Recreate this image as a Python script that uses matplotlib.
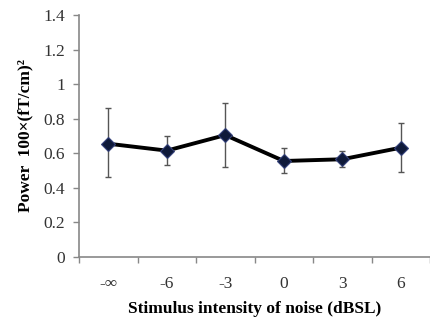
import matplotlib
matplotlib.use("Agg")
import matplotlib.pyplot as plt
import numpy as np

categories = ["-\u221e", "-6", "-3", "0", "3", "6"]
means = [0.655, 0.615, 0.705, 0.555, 0.565, 0.632]
err_hi = [0.86, 0.70, 0.89, 0.63, 0.615, 0.775]
err_lo = [0.46, 0.532, 0.522, 0.487, 0.52, 0.49]
yticks = [0, 0.2, 0.4, 0.6, 0.8, 1, 1.2, 1.4]
ytick_labels = ["0", "0.2", "0.4", "0.6", "0.8", "1", "1.2", "1.4"]

plt.rcParams['font.family'] = ['Liberation Serif', 'DejaVu Serif']

fig = plt.figure(figsize=(4.30, 3.26), dpi=100)
ax = fig.add_axes([0.184, 0.212, 0.816, 0.742])

x = np.arange(len(categories))
m = np.array(means)
yerr = np.vstack([m - np.array(err_lo), np.array(err_hi) - m])
ax.errorbar(x, m, yerr=yerr, fmt='none', ecolor='#555555', elinewidth=1.0,
            capsize=2.5, capthick=1.0, zorder=2)
ax.plot(x, m, color='black', lw=2.8, zorder=3)
ax.plot(x, m, linestyle='none', marker='D', markersize=7.5, color='#0f1a3a',
        markeredgecolor='#33407a', markeredgewidth=0.8, zorder=4)

ax.set_xlim(-0.5, len(categories) - 0.5)
ax.set_ylim(0, 1.4)
ax.set_yticks(yticks)
ax.set_yticklabels(ytick_labels)
ax.set_xticks(x)
ax.set_xticklabels(categories)
ax.set_xticks(np.arange(len(categories) + 1) - 0.5, minor=True)
ax.tick_params(axis='x', which='major', length=0, pad=14, labelsize=12.5, colors='#333333')
ax.tick_params(axis='x', which='minor', length=4, width=1, color='#888888', direction='out')
ax.tick_params(axis='y', length=4, width=1, color='#888888', direction='out', labelsize=12.5,
               labelcolor='#333333', pad=6)

for s in ['top', 'right']:
    ax.spines[s].set_visible(False)
for s in ['left', 'bottom']:
    ax.spines[s].set_color('#888888')
    ax.spines[s].set_linewidth(1.2)

ax.set_xlabel("Stimulus intensity of noise (dBSL)", fontsize=12.5, fontweight='bold', labelpad=6)
ax.set_ylabel("Power  100\u00d7(fT/cm)\u00b2", fontsize=12.5, fontweight='bold', labelpad=7)

fig.savefig("out.png", dpi=100)
